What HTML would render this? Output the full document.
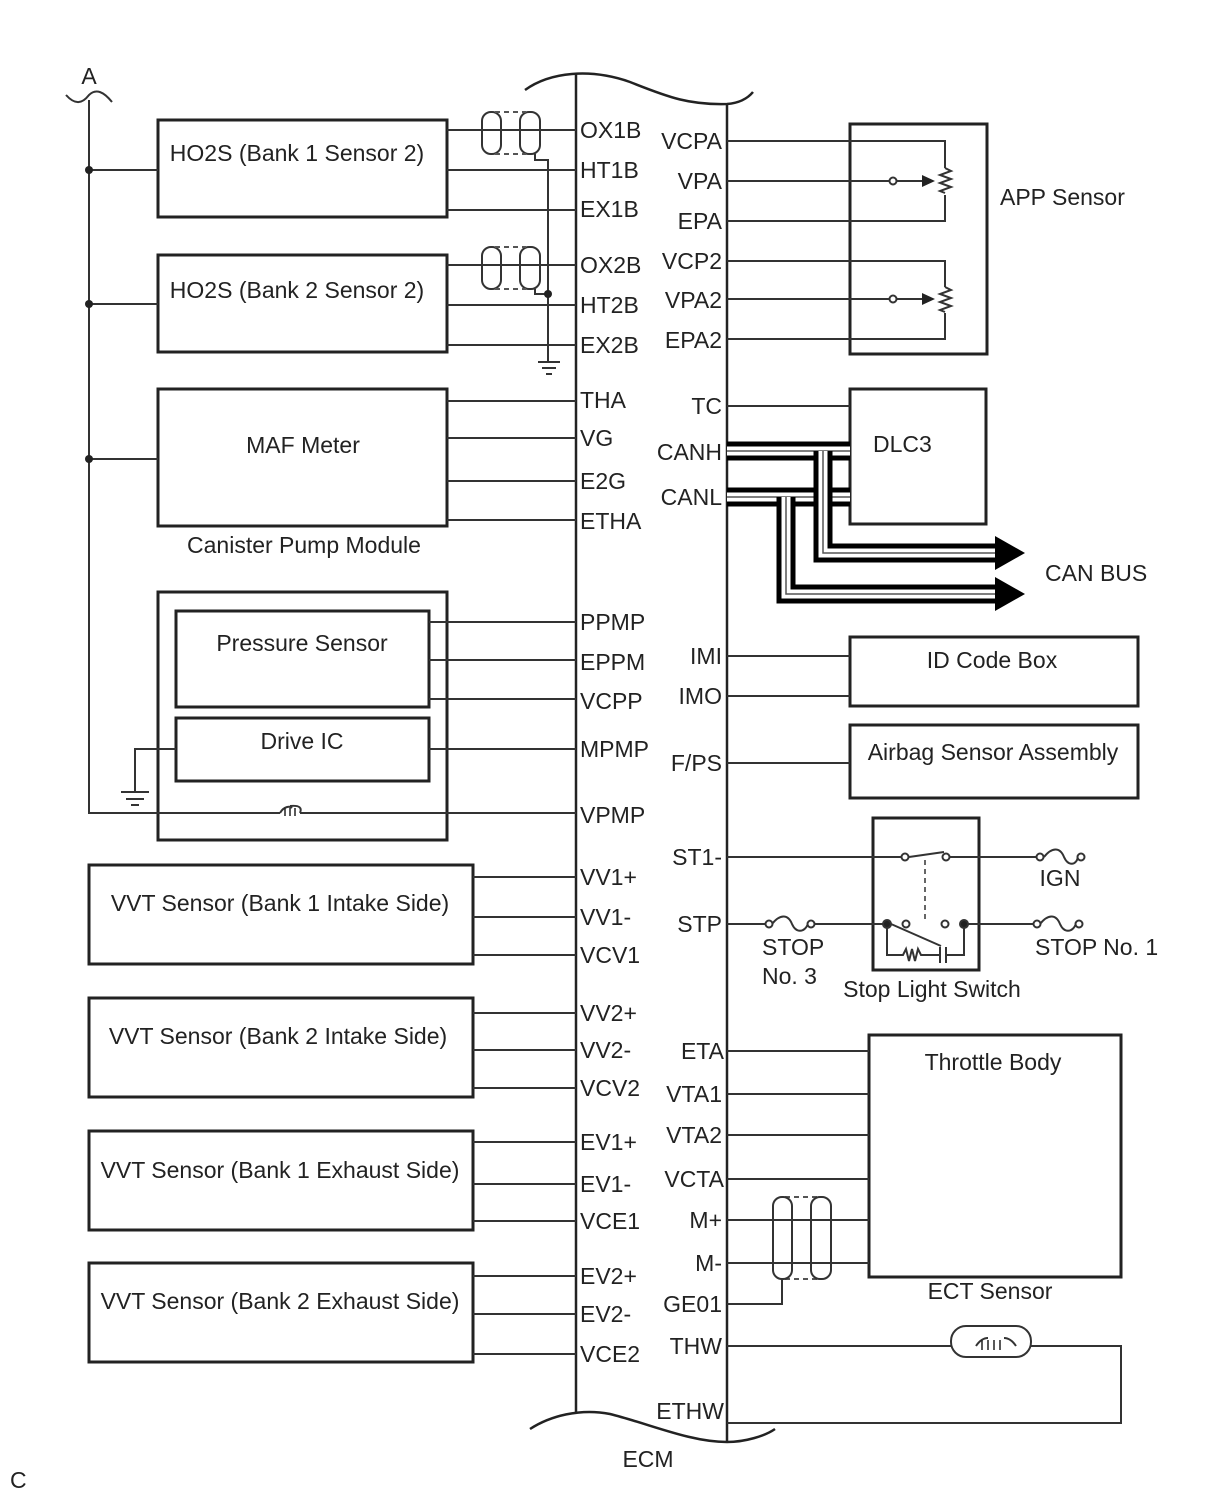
<!DOCTYPE html>
<html><head><meta charset="utf-8"><style>
html,body{margin:0;padding:0;background:#fff;}
svg{display:block;}
text{font-family:"Liberation Sans",Arial,sans-serif;font-size:23px;fill:#222;}
</style></head><body>
<svg width="1210" height="1498" viewBox="0 0 1210 1498" xmlns="http://www.w3.org/2000/svg">
<g fill="none" stroke="#222" stroke-width="2.5">
<path d="M576,73 V1412 M727,103 V1442"/>
<path d="M525,90 C550,72 590,68 630,82 C670,98 690,105 727,104 C740,103 748,98 753,92"/>
<path d="M530,1429 C550,1416 580,1408 610,1414 C650,1424 690,1442 727,1442 C745,1442 765,1436 775,1429"/>
</g>
<g fill="none" stroke="#222" stroke-width="3">
<rect x="158" y="120" width="289" height="97"/>
<rect x="158" y="255" width="289" height="97"/>
<rect x="158" y="389" width="289" height="137"/>
<rect x="158" y="592" width="289" height="248"/>
<rect x="176" y="611" width="253" height="96"/>
<rect x="176" y="718" width="253" height="63"/>
<rect x="89" y="865" width="384" height="99"/>
<rect x="89" y="998" width="384" height="99"/>
<rect x="89" y="1131" width="384" height="99"/>
<rect x="89" y="1263" width="384" height="99"/>
<rect x="850" y="124" width="137" height="230"/>
<rect x="850" y="389" width="136" height="135"/>
<rect x="850" y="637" width="288" height="69"/>
<rect x="850" y="725" width="288" height="73"/>
<rect x="873" y="818" width="106" height="152"/>
<rect x="869" y="1035" width="252" height="242"/>
</g>
<g fill="none" stroke="#333" stroke-width="2">
<path d="M89,100 V813 H280 M300,813 H576"/>
<path d="M89,170 H158 M89,304 H158 M89,459 H158"/>
<path d="M447,130 H576 M447,170 H576 M447,210 H576 M447,265 H576 M447,305 H576 M447,345 H576"/>
<path d="M447,401 H576 M447,438 H576 M447,481 H576 M447,520 H576"/>
<path d="M429,622 H576 M429,660 H576 M429,699 H576 M429,749 H576"/>
<path d="M176,749 H135 V792 M121,792 H149 M126,799 H144 M131,805 H139"/>
<path d="M473,877 H576 M473,917 H576 M473,955 H576 M473,1013 H576 M473,1050 H576 M473,1088 H576 M473,1142 H576 M473,1184 H576 M473,1221 H576 M473,1276 H576 M473,1314 H576 M473,1354 H576"/>
<rect x="482" y="112" width="19" height="42" rx="9"/>
<rect x="520" y="112" width="20" height="42" rx="9"/>
<rect x="482" y="247" width="19" height="42" rx="9"/>
<rect x="520" y="247" width="20" height="42" rx="9"/>
<path d="M495,112 H526 M495,154 H526 M495,247 H526 M495,289 H526 M785,1197 H818 M785,1279 H818" stroke-dasharray="5,4" stroke="#555"/>
<path d="M535,154 V160 H548 V362 M535,289 V294 H548 M538,362 H560 M542,368 H556 M546,374 H552"/>
<path d="M727,141 H945 V168 M945,195 V221 H727 M727,181 H889 M897,181 H922"/>
<path d="M727,261 H945 V287 M945,313 V339 H727 M727,299 H889 M897,299 H922"/>
<path d="M945,168 l6,3 -11,4 11,4 -11,4 11,4 -11,4 5,2"/>
<path d="M945,287 l6,3 -11,4 11,4 -11,4 11,4 -11,4 5,2"/>
<circle cx="893" cy="181" r="3.5" fill="#fff"/>
<circle cx="893" cy="299" r="3.5" fill="#fff"/>
<path d="M727,406 H850 M727,656 H850 M727,696 H850 M727,763 H850"/>
<path d="M727,857 H902 M909,857 L944,852 M950,857 H1040 M727,924 H768 M814,924 H883 M891,924 L941,946 M968,924 H1035"/>
<path d="M887,924 V955 H903 l3,-6 3,12 3,-12 3,12 3,-12 3,6 H940 M940,947 V963 M946,947 V963 M946,955 H964 V924"/>
<path d="M925,860 V920" stroke-dasharray="5,4" stroke="#666"/>
<circle cx="905" cy="857" r="3.5" fill="#fff"/>
<circle cx="946" cy="857" r="3.5" fill="#fff"/>
<circle cx="906" cy="924" r="3.5" fill="#fff"/>
<circle cx="945" cy="924" r="3.5" fill="#fff"/>
<circle cx="887" cy="924" r="4" fill="#222"/>
<circle cx="964" cy="924" r="4" fill="#222"/>
<path d="M1044,857 C1052,847 1060,847 1064,857 C1068,866 1076,866 1078,857"/>
<path d="M1040,924 C1048,914 1056,914 1060,924 C1064,933 1072,933 1076,924"/>
<path d="M772,924 C780,914 788,914 792,924 C796,933 804,933 808,924"/>
<circle cx="1040" cy="857" r="3.5" fill="#fff"/><circle cx="1081" cy="857" r="3.5" fill="#fff"/>
<circle cx="1037" cy="924" r="3.5" fill="#fff"/><circle cx="1079" cy="924" r="3.5" fill="#fff"/>
<circle cx="769" cy="924" r="3.5" fill="#fff"/><circle cx="811" cy="924" r="3.5" fill="#fff"/>
<path d="M727,1051 H869 M727,1094 H869 M727,1135 H869 M727,1179 H869 M727,1220 H869 M727,1263 H869"/>
<rect x="773" y="1197" width="19" height="82" rx="9"/>
<rect x="811" y="1197" width="20" height="82" rx="9"/>
<path d="M727,1304 H782 V1279"/>
<path d="M727,1346 H951 M1031,1346 H1121 V1423 H727"/>
<rect x="951" y="1326" width="80" height="31" rx="15"/>
<path d="M976,1346 C980,1340 984,1338 988,1338 M1004,1338 C1008,1338 1012,1340 1016,1346"/>
<path d="M280,813 C284,806 290,806 292,808 M290,806 C300,805 302,808 300,813"/>
<path d="M66,95 C75,105 82,104 89,95 C96,88 104,92 112,102"/>
</g>
<g fill="#222" stroke="none">
<circle cx="89" cy="170" r="4"/><circle cx="89" cy="304" r="4"/><circle cx="89" cy="459" r="4"/>
<circle cx="548" cy="294" r="4"/>
<polygon points="922,175 935,181 922,187"/><polygon points="922,293 935,299 922,305"/>
</g>
<g fill="none" stroke="#222" stroke-width="1.5">
<path d="M285,808 v8 M290,808 v8 M295,808 v8"/>
<path d="M982,1340 v10 M988,1340 v10 M994,1340 v10 M1000,1340 v10"/>
</g>
<g fill="none" stroke-linejoin="miter">
<path d="M727,451 H850" stroke="#000" stroke-width="19"/>
<path d="M727,451 H850" stroke="#fff" stroke-width="9"/>
<path d="M727,451 H850" stroke="#555" stroke-width="1.5"/>
<path d="M727,497 H850" stroke="#000" stroke-width="19"/>
<path d="M727,497 H850" stroke="#fff" stroke-width="9"/>
<path d="M727,497 H850" stroke="#555" stroke-width="1.5"/>
<path d="M786,497 V594 H998" stroke="#000" stroke-width="19"/>
<path d="M786,497 V594 H998" stroke="#fff" stroke-width="9"/>
<path d="M786,497 V594 H998" stroke="#555" stroke-width="1.5"/>
<path d="M823,451 V553 H998" stroke="#000" stroke-width="19"/>
<path d="M823,451 V553 H998" stroke="#fff" stroke-width="9"/>
<path d="M823,451 V553 H998" stroke="#555" stroke-width="1.5"/>
</g>
<polygon points="995,536 1025,553 995,570" fill="#000"/>
<polygon points="995,577 1025,594 995,611" fill="#000"/>
<g>
<text x="89" y="84" text-anchor="middle" font-size="19">A</text>
<text x="297" y="161" text-anchor="middle">HO2S (Bank 1 Sensor 2)</text>
<text x="297" y="298" text-anchor="middle">HO2S (Bank 2 Sensor 2)</text>
<text x="303" y="453" text-anchor="middle">MAF Meter</text>
<text x="304" y="553" text-anchor="middle">Canister Pump Module</text>
<text x="302" y="651" text-anchor="middle">Pressure Sensor</text>
<text x="302" y="749" text-anchor="middle">Drive IC</text>
<text x="280" y="911" text-anchor="middle">VVT Sensor (Bank 1 Intake Side)</text>
<text x="278" y="1044" text-anchor="middle">VVT Sensor (Bank 2 Intake Side)</text>
<text x="280" y="1178" text-anchor="middle">VVT Sensor (Bank 1 Exhaust Side)</text>
<text x="280" y="1309" text-anchor="middle">VVT Sensor (Bank 2 Exhaust Side)</text>
</g>
<g>
<text x="580" y="138">OX1B</text><text x="580" y="178">HT1B</text><text x="580" y="217">EX1B</text>
<text x="580" y="273">OX2B</text><text x="580" y="313">HT2B</text><text x="580" y="353">EX2B</text>
<text x="580" y="408">THA</text><text x="580" y="446">VG</text><text x="580" y="489">E2G</text><text x="580" y="529">ETHA</text>
<text x="580" y="630">PPMP</text><text x="580" y="670">EPPM</text><text x="580" y="709">VCPP</text><text x="580" y="757">MPMP</text><text x="580" y="823">VPMP</text>
<text x="580" y="885">VV1+</text><text x="580" y="925">VV1-</text><text x="580" y="963">VCV1</text>
<text x="580" y="1021">VV2+</text><text x="580" y="1058">VV2-</text><text x="580" y="1096">VCV2</text>
<text x="580" y="1150">EV1+</text><text x="580" y="1192">EV1-</text><text x="580" y="1229">VCE1</text>
<text x="580" y="1284">EV2+</text><text x="580" y="1322">EV2-</text><text x="580" y="1362">VCE2</text>
</g>
<g text-anchor="end">
<text x="722" y="149">VCPA</text><text x="722" y="189">VPA</text><text x="722" y="229">EPA</text>
<text x="722" y="269">VCP2</text><text x="722" y="308">VPA2</text><text x="722" y="348">EPA2</text>
<text x="722" y="414">TC</text><text x="722" y="460">CANH</text><text x="722" y="505">CANL</text>
<text x="722" y="664">IMI</text><text x="722" y="704">IMO</text><text x="722" y="771">F/PS</text>
<text x="722" y="865">ST1-</text><text x="722" y="932">STP</text>
<text x="724" y="1059">ETA</text><text x="722" y="1102">VTA1</text><text x="722" y="1143">VTA2</text><text x="724" y="1187">VCTA</text>
<text x="722" y="1228">M+</text><text x="722" y="1271">M-</text><text x="722" y="1312">GE01</text>
<text x="722" y="1354">THW</text><text x="724" y="1419">ETHW</text>
</g>
<g>
<text x="1000" y="205">APP Sensor</text>
<text x="873" y="452">DLC3</text>
<text x="1045" y="581">CAN BUS</text>
<text x="992" y="668" text-anchor="middle">ID Code Box</text>
<text x="993" y="760" text-anchor="middle">Airbag Sensor Assembly</text>
<text x="1060" y="886" text-anchor="middle">IGN</text>
<text x="1035" y="955">STOP No. 1</text>
<text x="762" y="955">STOP</text>
<text x="762" y="984">No. 3</text>
<text x="932" y="997" text-anchor="middle">Stop Light Switch</text>
<text x="993" y="1070" text-anchor="middle">Throttle Body</text>
<text x="990" y="1299" text-anchor="middle">ECT Sensor</text>
<text x="648" y="1467" text-anchor="middle">ECM</text>
<text x="10" y="1488" font-size="15">C</text>
</g>
</svg>
</body></html>
